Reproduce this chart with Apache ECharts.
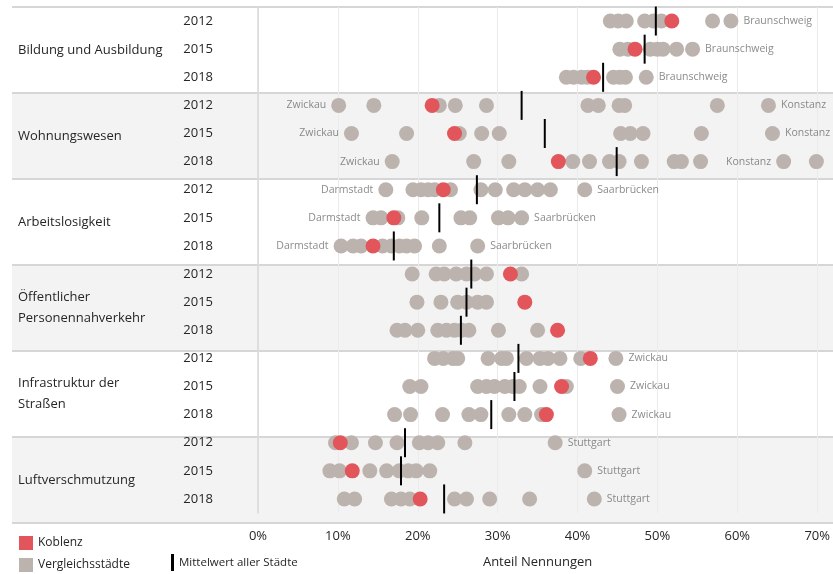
<!DOCTYPE html>
<html>
<head>
<meta charset="utf-8">
<script src="https://cdn.jsdelivr.net/npm/echarts@6/dist/echarts.min.js"></script>
<style>
  html, body { margin: 0; padding: 0; background: #fff; }
  #chart { width: 833px; height: 574px; }
</style>
</head>
<body>
<div id="chart"></div>
<script>
const groups = ['Bildung und Ausbildung', 'Wohnungswesen', 'Arbeitslosigkeit',
  'Öffentlicher\nPersonennahverkehr', 'Infrastruktur der\nStraßen', 'Luftverschmutzung'];
const years = ['2012', '2015', '2018'];
const xTicks = [0, 10, 20, 30, 40, 50, 60, 70];

// one entry per row (group x year), top to bottom
const koblenz = [51.8, 47.2, 42.0, 21.8, 24.6, 37.6, 23.2, 17.0, 14.4,
  31.6, 33.4, 37.5, 41.6, 38.0, 36.1, 10.3, 11.8, 20.3];
const mean = [49.8, 48.4, 43.2, 33.0, 35.9, 44.9, 27.4, 22.7, 17.0,
  26.7, 26.1, 25.4, 32.6, 32.1, 29.2, 18.4, 17.9, 23.3];
const others = [
  [44.1, 45.1, 46.1, 48.4, 49.5, 50.5, 56.9, 59.2],
  [45.3, 46.3, 49.1, 50.0, 50.7, 52.4, 54.4],
  [38.6, 39.5, 40.5, 41.2, 44.5, 45.3, 46.0, 48.6],
  [10.1, 14.5, 22.7, 24.7, 28.6, 41.3, 42.6, 45.2, 45.9, 57.5, 63.9],
  [11.7, 18.6, 25.2, 28.0, 30.2, 45.4, 46.6, 48.2, 55.5, 64.4],
  [16.8, 27.0, 31.4, 39.4, 41.5, 44.0, 45.2, 48.0, 52.1, 53.0, 55.4, 65.8, 69.9],
  [16.0, 19.4, 20.4, 21.3, 22.1, 24.1, 27.9, 29.7, 32.0, 33.4, 35.0, 36.6, 40.9],
  [14.4, 15.4, 17.5, 20.5, 25.4, 26.5, 30.1, 31.3, 33.0],
  [10.4, 11.9, 12.9, 15.6, 16.7, 17.7, 18.6, 19.6, 22.7, 27.5],
  [19.3, 22.3, 23.3, 24.8, 26.1, 27.1, 28.6, 33.0],
  [19.9, 22.9, 25.0, 26.1, 27.5, 28.6],
  [17.4, 18.4, 20.0, 22.5, 23.6, 24.6, 25.5, 26.4, 30.1, 35.0],
  [22.1, 23.2, 24.4, 25.0, 28.8, 30.5, 31.1, 33.6, 35.3, 36.3, 37.8, 40.4, 44.8],
  [19.0, 20.4, 27.5, 28.6, 29.6, 30.9, 31.9, 32.7, 35.3, 38.6, 45.0],
  [17.1, 19.1, 23.1, 26.4, 27.9, 31.4, 33.4, 35.5, 45.2],
  [9.7, 11.7, 14.7, 17.4, 20.2, 21.3, 22.5, 25.9, 37.2],
  [9.0, 10.2, 14.0, 16.1, 17.7, 18.8, 19.8, 21.5, 40.9],
  [10.8, 12.1, 16.7, 17.9, 19.0, 24.6, 26.1, 29.0, 34.0, 42.1]
];
// [row, value, city, side]
const cityLabels = [
  [0, 59.2, 'Braunschweig', 'right'], [1, 54.4, 'Braunschweig', 'right'], [2, 48.6, 'Braunschweig', 'right'],
  [3, 10.1, 'Zwickau', 'left'], [3, 63.9, 'Konstanz', 'right'],
  [4, 11.7, 'Zwickau', 'left'], [4, 64.4, 'Konstanz', 'right'],
  [5, 16.8, 'Zwickau', 'left'], [5, 65.8, 'Konstanz', 'left'],
  [6, 16.0, 'Darmstadt', 'left'], [6, 40.9, 'Saarbrücken', 'right'],
  [7, 14.4, 'Darmstadt', 'left'], [7, 33.0, 'Saarbrücken', 'right'],
  [8, 10.4, 'Darmstadt', 'left'], [8, 27.5, 'Saarbrücken', 'right'],
  [12, 44.8, 'Zwickau', 'right'], [13, 45.0, 'Zwickau', 'right'], [14, 45.2, 'Zwickau', 'right'],
  [15, 37.2, 'Stuttgart', 'right'], [16, 40.9, 'Stuttgart', 'right'], [17, 42.1, 'Stuttgart', 'right']
];

const rows = [];
groups.forEach(g => years.forEach(y => rows.push(g + '|' + y)));

const grayData = [];
others.forEach((vals, r) => vals.forEach(v => grayData.push([v, r])));

const txt = '#262626';
const legendBase = { icon: 'rect', selectedMode: false, itemGap: 8 };
const chart = echarts.init(document.getElementById('chart'));
chart.setOption({
  animation: false,
  textStyle: { fontFamily: 'Open Sans' },
  grid: [
    { left: 12, right: 0, top: 7, bottom: 51 },
    { left: 258, right: 15, top: 7, bottom: 51 }
  ],
  legend: [
    { ...legendBase, data: ['Koblenz'], left: 14, top: 531, itemWidth: 14, itemHeight: 14,
      textStyle: { fontSize: 12, color: txt } },
    { ...legendBase, data: ['Vergleichsstädte'], left: 14, top: 553, itemWidth: 14, itemHeight: 14,
      textStyle: { fontSize: 12, color: txt } },
    { ...legendBase, data: ['Mittelwert aller Städte'], left: 166, top: 549, itemWidth: 3, itemHeight: 17,
      textStyle: { fontSize: 11.5, color: txt } }
  ],
  xAxis: [
    { gridIndex: 0, type: 'value', min: 0, max: 1, show: false },
    {
      gridIndex: 1, type: 'value', min: xTicks[0], max: xTicks[xTicks.length - 1], interval: 10,
      axisLine: { show: false }, axisTick: { show: false },
      axisLabel: { formatter: '{value}%', fontSize: 13, color: txt, margin: 17 },
      splitLine: { show: true, lineStyle: { color: '#ebebeb', width: 1 } },
      name: 'Anteil Nennungen', nameLocation: 'middle', nameGap: 43,
      nameTextStyle: { fontSize: 13, color: txt },
      z: 1
    }
  ],
  yAxis: [
    {
      gridIndex: 0, type: 'category', data: groups, inverse: true,
      axisLine: { show: false }, axisTick: { show: false },
      axisLabel: { inside: true, margin: 6, fontSize: 13, lineHeight: 21, color: txt, interval: 0 },
      splitArea: { show: true, areaStyle: { color: ['#ffffff', '#f3f3f3'] } },
      splitLine: { show: true, lineStyle: { color: '#d6d6d6', width: 2 } },
      z: 0
    },
    {
      gridIndex: 1, type: 'category', data: rows, inverse: true,
      axisLine: { show: true, lineStyle: { color: '#d9d9d9', width: 1.5 } },
      axisTick: { show: false },
      axisLabel: { margin: 45, fontSize: 13, color: txt, interval: 0, formatter: v => v.split('|')[1] },
      z: 1
    }
  ],
  series: [
    {
      name: 'Vergleichsstädte', type: 'scatter', xAxisIndex: 1, yAxisIndex: 1,
      data: grayData, symbolSize: 15, clip: false,
      itemStyle: { color: '#bdb3ae', opacity: 1 }, z: 2
    },
    {
      name: 'Koblenz', type: 'scatter', xAxisIndex: 1, yAxisIndex: 1,
      data: koblenz.map((v, r) => [v, r]), symbolSize: 15,
      itemStyle: { color: '#e2555a', opacity: 1 }, z: 3
    },
    {
      name: 'Mittelwert aller Städte', type: 'scatter', xAxisIndex: 1, yAxisIndex: 1,
      data: mean.map((v, r) => [v, r]), symbol: 'rect', symbolSize: [2, 29],
      itemStyle: { color: '#000', opacity: 1 }, z: 4
    },
    {
      name: 'labels', type: 'scatter', xAxisIndex: 1, yAxisIndex: 1,
      symbolSize: 15, itemStyle: { color: 'rgba(0,0,0,0)' }, z: 5, silent: true,
      data: cityLabels.map(([r, v, name, side]) => ({
        value: [v, r],
        label: { show: true, position: side, distance: 5, formatter: name,
          fontSize: 10.5, color: '#6e6e6e' }
      }))
    }
  ]
});
</script>
</body>
</html>
